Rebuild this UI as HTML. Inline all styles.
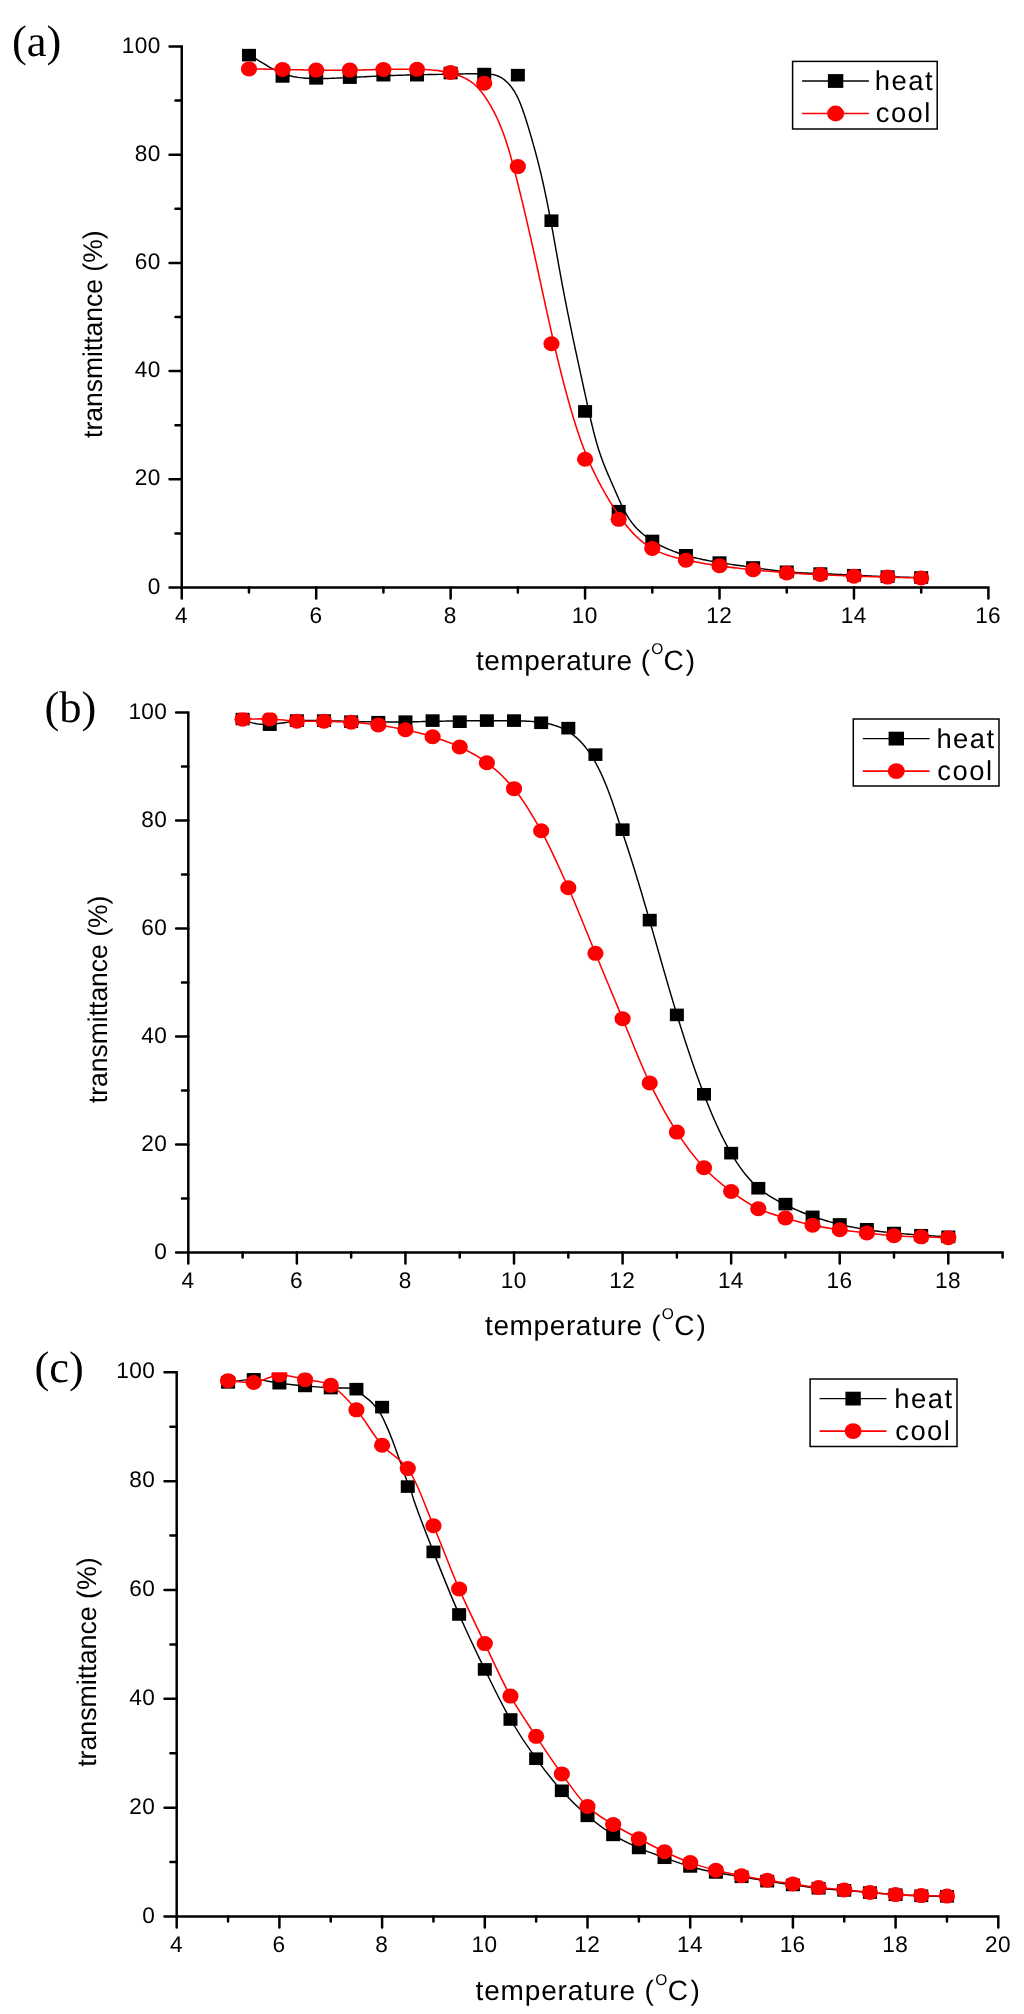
<!DOCTYPE html>
<html><head><meta charset="utf-8"><style>
html,body{margin:0;padding:0;background:#fff;}
svg{display:block;will-change:transform;}
.tk{font-family:"Liberation Sans",sans-serif;font-size:22.6px;letter-spacing:0.4px;fill:#000;}
.tt{font-family:"Liberation Sans",sans-serif;font-size:28px;fill:#000;}
.sup{font-size:15.5px;}
.lg{font-family:"Liberation Sans",sans-serif;font-size:27.4px;letter-spacing:1.5px;fill:#000;}
.pl{font-family:"Liberation Serif",serif;font-size:44.5px;fill:#000;}
</style></head><body>
<svg width="1024" height="2014" viewBox="0 0 1024 2014" text-rendering="geometricPrecision">
<path d="M169.55,46.50 H181.75 V587.50 H988.40 V598.40" fill="none" stroke="#000" stroke-width="2.5" stroke-linejoin="miter" stroke-linecap="round"/>
<path d="M169.55,587.50 H181.75 M169.55,479.30 H181.75 M169.55,371.10 H181.75 M169.55,262.90 H181.75 M169.55,154.70 H181.75 M175.45,533.40 H181.75 M175.45,425.20 H181.75 M175.45,317.00 H181.75 M175.45,208.80 H181.75 M175.45,100.60 H181.75 M181.75,587.50 V598.40 M316.19,587.50 V598.40 M450.63,587.50 V598.40 M585.08,587.50 V598.40 M719.52,587.50 V598.40 M853.96,587.50 V598.40 M248.97,587.50 V592.50 M383.41,587.50 V592.50 M517.85,587.50 V592.50 M652.30,587.50 V592.50 M786.74,587.50 V592.50 M921.18,587.50 V592.50 " fill="none" stroke="#000" stroke-width="2.5" stroke-linecap="round"/>
<text class="tk" x="160.75" y="593.60" text-anchor="end">0</text>
<text class="tk" x="160.75" y="485.40" text-anchor="end">20</text>
<text class="tk" x="160.75" y="377.20" text-anchor="end">40</text>
<text class="tk" x="160.75" y="269.00" text-anchor="end">60</text>
<text class="tk" x="160.75" y="160.80" text-anchor="end">80</text>
<text class="tk" x="160.75" y="52.60" text-anchor="end">100</text>
<text class="tk" x="181.45" y="622.90" text-anchor="middle">4</text>
<text class="tk" x="315.89" y="622.90" text-anchor="middle">6</text>
<text class="tk" x="450.33" y="622.90" text-anchor="middle">8</text>
<text class="tk" x="584.78" y="622.90" text-anchor="middle">10</text>
<text class="tk" x="719.22" y="622.90" text-anchor="middle">12</text>
<text class="tk" x="853.66" y="622.90" text-anchor="middle">14</text>
<text class="tk" x="988.10" y="622.90" text-anchor="middle">16</text>
<clipPath id="c1"><rect x="181.75" y="46.50" width="806.65" height="541.00"/></clipPath>
<g clip-path="url(#c1)">
<path d="M248.98,55.16 L250.76,56.06 L252.52,57.01 L254.27,57.98 L256.00,58.99 L257.73,60.01 L259.45,61.04 L261.17,62.09 L262.89,63.14 L264.61,64.19 L266.33,65.23 L268.06,66.26 L269.79,67.27 L271.54,68.26 L273.30,69.22 L275.07,70.15 L276.86,71.04 L278.67,71.89 L280.50,72.69 L282.36,73.43 L284.24,74.11 L286.15,74.73 L288.07,75.30 L290.02,75.81 L291.98,76.27 L293.95,76.68 L295.93,77.04 L297.91,77.36 L299.90,77.62 L301.90,77.85 L303.89,78.04 L305.89,78.20 L307.88,78.33 L309.89,78.43 L311.89,78.51 L313.89,78.56 L315.90,78.58 L317.90,78.59 L319.91,78.59 L321.91,78.56 L323.92,78.52 L325.93,78.48 L327.94,78.42 L329.94,78.35 L331.95,78.28 L333.96,78.21 L335.96,78.13 L337.97,78.05 L339.97,77.96 L341.98,77.87 L343.98,77.78 L345.99,77.69 L347.99,77.59 L350.00,77.49 L352.00,77.39 L354.00,77.28 L356.01,77.18 L358.01,77.08 L360.01,76.97 L362.01,76.87 L364.02,76.76 L366.02,76.66 L368.02,76.55 L370.03,76.45 L372.03,76.35 L374.03,76.25 L376.03,76.15 L378.04,76.06 L380.04,75.97 L382.04,75.88 L384.05,75.79 L386.05,75.71 L388.06,75.63 L390.06,75.56 L392.07,75.48 L394.07,75.42 L396.08,75.35 L398.08,75.29 L400.09,75.22 L402.09,75.17 L404.10,75.11 L406.10,75.06 L408.11,75.00 L410.11,74.95 L412.12,74.91 L414.12,74.86 L416.13,74.82 L418.14,74.77 L420.14,74.73 L422.15,74.69 L424.16,74.65 L426.16,74.61 L428.17,74.58 L430.17,74.54 L432.18,74.50 L434.19,74.47 L436.19,74.43 L438.20,74.39 L440.20,74.36 L442.21,74.32 L444.22,74.29 L446.22,74.25 L448.23,74.21 L450.23,74.18 L452.24,74.14 L454.24,74.10 L456.25,74.06 L458.25,74.02 L460.26,73.98 L462.26,73.93 L464.27,73.89 L466.27,73.84 L468.28,73.80 L470.28,73.76 L472.29,73.73 L474.30,73.70 L476.31,73.69 L478.32,73.68 L480.33,73.69 L482.34,73.70 L484.36,73.74 L486.37,73.82 L488.36,73.94 L490.33,74.14 L492.27,74.43 L494.18,74.82 L496.03,75.34 L497.84,75.99 L499.58,76.79 L501.27,77.71 L502.91,78.76 L504.48,79.92 L505.99,81.19 L507.45,82.55 L508.84,84.00 L510.17,85.53 L511.44,87.13 L512.65,88.78 L513.79,90.49 L514.87,92.24 L515.89,94.03 L516.85,95.85 L517.76,97.69 L518.62,99.56 L519.44,101.45 L520.23,103.35 L520.97,105.26 L521.70,107.18 L522.39,109.10 L523.07,111.01 L523.74,112.92 L524.38,114.83 L525.02,116.73 L525.64,118.63 L526.25,120.53 L526.85,122.43 L527.44,124.33 L528.02,126.23 L528.60,128.13 L529.17,130.03 L529.73,131.93 L530.29,133.84 L530.85,135.74 L531.41,137.66 L531.96,139.57 L532.50,141.49 L533.05,143.41 L533.59,145.34 L534.12,147.26 L534.65,149.19 L535.18,151.12 L535.70,153.06 L536.22,154.99 L536.73,156.93 L537.24,158.87 L537.74,160.82 L538.24,162.76 L538.73,164.71 L539.22,166.65 L539.70,168.60 L540.17,170.55 L540.64,172.50 L541.10,174.45 L541.56,176.41 L542.01,178.36 L542.46,180.32 L542.90,182.28 L543.33,184.24 L543.77,186.20 L544.19,188.16 L544.62,190.12 L545.04,192.08 L545.45,194.05 L545.86,196.01 L546.27,197.98 L546.67,199.94 L547.07,201.91 L547.46,203.88 L547.85,205.85 L548.24,207.81 L548.63,209.78 L549.01,211.76 L549.39,213.73 L549.77,215.70 L550.14,217.67 L550.51,219.64 L550.88,221.62 L551.25,223.59 L551.62,225.56 L551.98,227.54 L552.34,229.51 L552.70,231.49 L553.06,233.46 L553.42,235.44 L553.77,237.42 L554.13,239.39 L554.48,241.37 L554.84,243.34 L555.19,245.32 L555.54,247.29 L555.89,249.27 L556.24,251.25 L556.60,253.22 L556.95,255.20 L557.30,257.17 L557.65,259.15 L558.00,261.12 L558.36,263.10 L558.71,265.07 L559.06,267.05 L559.42,269.02 L559.77,270.99 L560.13,272.97 L560.49,274.94 L560.85,276.91 L561.21,278.88 L561.58,280.85 L561.94,282.82 L562.31,284.79 L562.68,286.76 L563.05,288.73 L563.43,290.69 L563.80,292.66 L564.18,294.63 L564.56,296.59 L564.94,298.56 L565.32,300.52 L565.71,302.48 L566.10,304.45 L566.48,306.41 L566.87,308.37 L567.27,310.34 L567.66,312.30 L568.06,314.26 L568.45,316.22 L568.85,318.18 L569.25,320.14 L569.65,322.10 L570.05,324.06 L570.46,326.02 L570.86,327.98 L571.27,329.94 L571.68,331.90 L572.09,333.86 L572.50,335.82 L572.91,337.78 L573.32,339.74 L573.74,341.70 L574.15,343.66 L574.57,345.62 L574.98,347.58 L575.40,349.54 L575.82,351.50 L576.24,353.46 L576.66,355.42 L577.08,357.38 L577.51,359.34 L577.93,361.30 L578.35,363.26 L578.78,365.22 L579.20,367.18 L579.63,369.15 L580.06,371.11 L580.49,373.07 L580.91,375.03 L581.34,377.00 L581.77,378.96 L582.20,380.92 L582.63,382.89 L583.06,384.85 L583.49,386.82 L583.92,388.79 L584.36,390.75 L584.79,392.72 L585.22,394.69 L585.65,396.66 L586.08,398.63 L586.52,400.60 L586.95,402.57 L587.38,404.54 L587.82,406.51 L588.25,408.49 L588.68,410.46 L589.12,412.43 L589.56,414.41 L590.00,416.38 L590.45,418.35 L590.90,420.31 L591.35,422.28 L591.81,424.24 L592.28,426.20 L592.75,428.16 L593.23,430.11 L593.72,432.06 L594.22,434.01 L594.73,435.95 L595.24,437.88 L595.77,439.81 L596.31,441.73 L596.86,443.65 L597.42,445.56 L598.00,447.46 L598.59,449.36 L599.19,451.24 L599.81,453.12 L600.45,454.99 L601.10,456.86 L601.77,458.71 L602.45,460.55 L603.15,462.39 L603.86,464.22 L604.58,466.05 L605.32,467.88 L606.07,469.70 L606.83,471.52 L607.60,473.35 L608.37,475.17 L609.16,477.00 L609.96,478.83 L610.76,480.67 L611.56,482.51 L612.37,484.36 L613.19,486.22 L614.01,488.08 L614.83,489.96 L615.66,491.85 L616.48,493.75 L617.32,495.66 L618.15,497.57 L619.00,499.49 L619.86,501.40 L620.74,503.30 L621.63,505.20 L622.55,507.08 L623.49,508.95 L624.45,510.79 L625.43,512.61 L626.45,514.41 L627.50,516.17 L628.59,517.91 L629.71,519.60 L630.88,521.26 L632.08,522.87 L633.33,524.44 L634.62,525.96 L635.94,527.44 L637.30,528.89 L638.70,530.29 L640.14,531.65 L641.61,532.97 L643.11,534.26 L644.64,535.50 L646.21,536.71 L647.80,537.88 L649.43,539.02 L651.08,540.12 L652.75,541.19 L654.45,542.23 L656.17,543.23 L657.92,544.20 L659.69,545.14 L661.47,546.04 L663.28,546.92 L665.10,547.77 L666.94,548.59 L668.80,549.38 L670.66,550.15 L672.55,550.89 L674.44,551.60 L676.34,552.29 L678.25,552.95 L680.17,553.59 L682.10,554.20 L684.03,554.80 L685.97,555.37 L687.91,555.92 L689.86,556.45 L691.80,556.97 L693.76,557.46 L695.71,557.94 L697.66,558.39 L699.62,558.84 L701.58,559.27 L703.55,559.68 L705.51,560.08 L707.48,560.47 L709.45,560.84 L711.42,561.21 L713.39,561.56 L715.37,561.90 L717.34,562.24 L719.32,562.56 L721.30,562.88 L723.28,563.20 L725.26,563.51 L727.24,563.81 L729.23,564.10 L731.21,564.40 L733.19,564.68 L735.18,564.97 L737.17,565.25 L739.15,565.53 L741.14,565.81 L743.13,566.09 L745.11,566.37 L747.10,566.64 L749.09,566.92 L751.08,567.20 L753.06,567.48 L755.05,567.77 L757.04,568.05 L759.03,568.33 L761.01,568.62 L763.00,568.90 L764.99,569.18 L766.98,569.46 L768.97,569.73 L770.95,569.99 L772.94,570.25 L774.93,570.51 L776.93,570.75 L778.92,570.99 L780.91,571.21 L782.90,571.42 L784.90,571.62 L786.89,571.81 L788.89,571.99 L790.89,572.15 L792.89,572.29 L794.89,572.43 L796.89,572.56 L798.89,572.68 L800.90,572.79 L802.90,572.89 L804.90,572.99 L806.91,573.08 L808.91,573.16 L810.92,573.25 L812.92,573.33 L814.93,573.41 L816.94,573.49 L818.94,573.57 L820.95,573.65 L822.95,573.73 L824.96,573.82 L826.96,573.90 L828.97,573.99 L830.97,574.08 L832.98,574.17 L834.98,574.27 L836.99,574.36 L838.99,574.46 L840.99,574.55 L843.00,574.65 L845.00,574.75 L847.01,574.85 L849.01,574.94 L851.01,575.04 L853.02,575.14 L855.02,575.24 L857.02,575.34 L859.03,575.44 L861.03,575.53 L863.03,575.63 L865.04,575.72 L867.04,575.82 L869.05,575.91 L871.05,576.00 L873.05,576.10 L875.06,576.18 L877.06,576.27 L879.06,576.36 L881.07,576.44 L883.07,576.52 L885.08,576.60 L887.08,576.68 L889.09,576.76 L891.09,576.83 L893.10,576.90 L895.10,576.96 L897.11,577.03 L899.11,577.08 L901.12,577.14 L903.12,577.19 L905.13,577.24 L907.13,577.29 L909.14,577.33 L911.14,577.37 L913.15,577.40 L915.16,577.43 L917.17,577.45 L919.17,577.47 L921.18,577.49" fill="none" stroke="#000" stroke-width="1.45" stroke-linejoin="round"/>
<rect x="241.97" y="48.86" width="14.0" height="12.6"/>
<rect x="275.58" y="70.12" width="14.0" height="12.6"/>
<rect x="309.19" y="72.01" width="14.0" height="12.6"/>
<rect x="342.80" y="71.31" width="14.0" height="12.6"/>
<rect x="376.41" y="68.87" width="14.0" height="12.6"/>
<rect x="410.02" y="68.87" width="14.0" height="12.6"/>
<rect x="443.63" y="66.71" width="14.0" height="12.6"/>
<rect x="477.24" y="67.79" width="14.0" height="12.6"/>
<rect x="510.85" y="68.87" width="14.0" height="12.6"/>
<rect x="544.46" y="214.40" width="14.0" height="12.6"/>
<rect x="578.08" y="405.10" width="14.0" height="12.6"/>
<rect x="611.69" y="504.92" width="14.0" height="12.6"/>
<rect x="645.30" y="534.67" width="14.0" height="12.6"/>
<rect x="678.91" y="549.01" width="14.0" height="12.6"/>
<rect x="712.52" y="556.31" width="14.0" height="12.6"/>
<rect x="746.13" y="561.18" width="14.0" height="12.6"/>
<rect x="779.74" y="565.51" width="14.0" height="12.6"/>
<rect x="813.35" y="567.30" width="14.0" height="12.6"/>
<rect x="846.96" y="568.92" width="14.0" height="12.6"/>
<rect x="880.57" y="570.38" width="14.0" height="12.6"/>
<rect x="914.18" y="571.19" width="14.0" height="12.6"/>
<path d="M248.97,68.90 L250.98,68.92 L252.99,68.95 L254.99,68.98 L257.00,69.01 L259.01,69.04 L261.01,69.07 L263.02,69.10 L265.03,69.14 L267.04,69.17 L269.04,69.21 L271.05,69.25 L273.06,69.29 L275.07,69.33 L277.07,69.37 L279.08,69.41 L281.09,69.45 L283.09,69.49 L285.10,69.53 L287.11,69.57 L289.12,69.62 L291.12,69.66 L293.13,69.70 L295.14,69.74 L297.15,69.78 L299.15,69.81 L301.16,69.85 L303.17,69.89 L305.18,69.92 L307.18,69.96 L309.19,69.99 L311.20,70.02 L313.21,70.05 L315.21,70.08 L317.22,70.10 L319.23,70.12 L321.24,70.15 L323.24,70.16 L325.25,70.18 L327.26,70.19 L329.27,70.21 L331.28,70.21 L333.28,70.22 L335.29,70.22 L337.30,70.22 L339.31,70.21 L341.31,70.21 L343.32,70.20 L345.33,70.18 L347.34,70.16 L349.34,70.14 L351.35,70.11 L353.36,70.08 L355.36,70.05 L357.37,70.01 L359.38,69.97 L361.39,69.93 L363.39,69.88 L365.40,69.83 L367.41,69.79 L369.42,69.74 L371.42,69.69 L373.43,69.64 L375.44,69.59 L377.45,69.55 L379.45,69.50 L381.46,69.45 L383.47,69.41 L385.48,69.37 L387.48,69.33 L389.49,69.29 L391.50,69.26 L393.51,69.23 L395.51,69.21 L397.52,69.19 L399.53,69.17 L401.54,69.16 L403.54,69.15 L405.55,69.15 L407.56,69.16 L409.57,69.17 L411.57,69.19 L413.58,69.22 L415.59,69.26 L417.60,69.30 L419.60,69.35 L421.61,69.42 L423.62,69.50 L425.62,69.59 L427.63,69.70 L429.63,69.83 L431.63,69.98 L433.63,70.16 L435.63,70.36 L437.63,70.60 L439.62,70.86 L441.61,71.16 L443.59,71.49 L445.57,71.86 L447.55,72.26 L449.53,72.71 L451.49,73.21 L453.46,73.75 L455.41,74.34 L457.34,74.98 L459.26,75.67 L461.14,76.42 L463.00,77.23 L464.82,78.10 L466.61,79.03 L468.34,80.03 L470.03,81.10 L471.67,82.24 L473.24,83.45 L474.76,84.73 L476.21,86.09 L477.61,87.50 L478.96,88.97 L480.26,90.49 L481.51,92.05 L482.73,93.65 L483.91,95.27 L485.06,96.92 L486.18,98.58 L487.27,100.25 L488.34,101.94 L489.38,103.64 L490.39,105.36 L491.38,107.09 L492.35,108.83 L493.29,110.58 L494.21,112.34 L495.11,114.12 L495.99,115.91 L496.84,117.71 L497.68,119.52 L498.49,121.34 L499.28,123.16 L500.06,125.00 L500.82,126.85 L501.56,128.71 L502.28,130.57 L502.99,132.44 L503.68,134.32 L504.36,136.21 L505.02,138.10 L505.67,140.00 L506.30,141.91 L506.92,143.82 L507.53,145.74 L508.13,147.66 L508.72,149.59 L509.29,151.52 L509.86,153.46 L510.42,155.40 L510.97,157.34 L511.51,159.29 L512.05,161.24 L512.57,163.19 L513.09,165.14 L513.61,167.09 L514.12,169.05 L514.63,171.01 L515.13,172.96 L515.63,174.92 L516.13,176.88 L516.63,178.83 L517.12,180.79 L517.61,182.75 L518.10,184.70 L518.58,186.66 L519.07,188.61 L519.55,190.57 L520.03,192.52 L520.51,194.48 L520.99,196.43 L521.46,198.39 L521.93,200.34 L522.40,202.30 L522.87,204.25 L523.34,206.20 L523.80,208.16 L524.27,210.11 L524.73,212.06 L525.19,214.02 L525.65,215.97 L526.10,217.92 L526.56,219.88 L527.01,221.83 L527.46,223.78 L527.91,225.74 L528.36,227.69 L528.81,229.65 L529.26,231.60 L529.70,233.55 L530.14,235.51 L530.59,237.46 L531.03,239.41 L531.47,241.37 L531.91,243.32 L532.34,245.28 L532.78,247.23 L533.22,249.19 L533.65,251.14 L534.08,253.10 L534.52,255.05 L534.95,257.01 L535.38,258.96 L535.81,260.92 L536.24,262.87 L536.66,264.83 L537.09,266.79 L537.52,268.74 L537.94,270.70 L538.37,272.66 L538.80,274.62 L539.22,276.58 L539.65,278.53 L540.07,280.49 L540.49,282.45 L540.92,284.41 L541.34,286.37 L541.77,288.33 L542.19,290.29 L542.61,292.25 L543.04,294.21 L543.46,296.16 L543.89,298.12 L544.31,300.08 L544.74,302.04 L545.17,304.00 L545.59,305.96 L546.02,307.92 L546.45,309.88 L546.88,311.84 L547.31,313.80 L547.74,315.76 L548.17,317.72 L548.61,319.68 L549.04,321.64 L549.48,323.60 L549.91,325.56 L550.35,327.51 L550.79,329.47 L551.23,331.43 L551.68,333.39 L552.12,335.35 L552.57,337.30 L553.02,339.26 L553.47,341.22 L553.92,343.18 L554.37,345.13 L554.83,347.09 L555.29,349.05 L555.75,351.00 L556.21,352.96 L556.67,354.91 L557.14,356.87 L557.61,358.82 L558.08,360.78 L558.56,362.73 L559.04,364.68 L559.52,366.64 L560.00,368.59 L560.49,370.54 L560.97,372.49 L561.47,374.44 L561.96,376.39 L562.46,378.34 L562.96,380.29 L563.47,382.24 L563.97,384.19 L564.49,386.14 L565.00,388.09 L565.52,390.03 L566.04,391.98 L566.57,393.93 L567.10,395.87 L567.63,397.81 L568.17,399.76 L568.71,401.70 L569.25,403.64 L569.80,405.58 L570.36,407.52 L570.92,409.46 L571.48,411.40 L572.05,413.33 L572.63,415.27 L573.21,417.20 L573.79,419.13 L574.39,421.05 L574.99,422.98 L575.59,424.90 L576.21,426.82 L576.83,428.73 L577.45,430.64 L578.09,432.55 L578.73,434.45 L579.38,436.35 L580.04,438.25 L580.71,440.14 L581.39,442.02 L582.07,443.90 L582.77,445.78 L583.47,447.65 L584.19,449.52 L584.91,451.38 L585.64,453.23 L586.39,455.08 L587.14,456.92 L587.91,458.76 L588.69,460.59 L589.47,462.41 L590.27,464.23 L591.08,466.04 L591.91,467.84 L592.74,469.64 L593.59,471.42 L594.45,473.21 L595.32,474.98 L596.20,476.75 L597.10,478.52 L598.01,480.28 L598.93,482.04 L599.86,483.80 L600.80,485.55 L601.76,487.30 L602.72,489.05 L603.70,490.80 L604.69,492.55 L605.70,494.30 L606.71,496.04 L607.74,497.79 L608.78,499.54 L609.83,501.29 L610.89,503.04 L611.97,504.79 L613.06,506.54 L614.16,508.28 L615.28,510.02 L616.41,511.75 L617.56,513.48 L618.73,515.19 L619.91,516.89 L621.10,518.58 L622.32,520.25 L623.56,521.90 L624.81,523.54 L626.08,525.16 L627.37,526.75 L628.69,528.32 L630.02,529.87 L631.38,531.39 L632.76,532.88 L634.16,534.34 L635.58,535.77 L637.03,537.17 L638.50,538.53 L640.00,539.86 L641.52,541.15 L643.07,542.39 L644.65,543.60 L646.25,544.76 L647.88,545.88 L649.54,546.96 L651.23,547.98 L652.94,548.96 L654.69,549.89 L656.46,550.77 L658.26,551.60 L660.09,552.39 L661.93,553.14 L663.80,553.86 L665.68,554.53 L667.59,555.18 L669.50,555.79 L671.44,556.37 L673.38,556.92 L675.34,557.45 L677.30,557.96 L679.27,558.45 L681.25,558.92 L683.23,559.37 L685.21,559.81 L687.20,560.24 L689.18,560.65 L691.16,561.06 L693.15,561.46 L695.13,561.84 L697.11,562.22 L699.10,562.59 L701.08,562.95 L703.06,563.30 L705.05,563.64 L707.03,563.97 L709.01,564.29 L711.00,564.61 L712.98,564.92 L714.97,565.22 L716.95,565.51 L718.94,565.80 L720.92,566.08 L722.91,566.35 L724.90,566.62 L726.88,566.88 L728.87,567.13 L730.86,567.38 L732.85,567.62 L734.84,567.86 L736.83,568.09 L738.82,568.32 L740.81,568.54 L742.80,568.76 L744.79,568.97 L746.78,569.18 L748.78,569.38 L750.77,569.59 L752.76,569.78 L754.76,569.98 L756.76,570.17 L758.75,570.36 L760.75,570.55 L762.75,570.73 L764.75,570.91 L766.75,571.09 L768.75,571.26 L770.75,571.43 L772.75,571.60 L774.75,571.76 L776.75,571.92 L778.76,572.08 L780.76,572.24 L782.76,572.39 L784.77,572.54 L786.77,572.69 L788.77,572.83 L790.78,572.97 L792.78,573.11 L794.79,573.24 L796.80,573.38 L798.80,573.51 L800.81,573.63 L802.81,573.76 L804.82,573.88 L806.82,573.99 L808.83,574.11 L810.84,574.22 L812.84,574.33 L814.85,574.44 L816.85,574.54 L818.86,574.64 L820.86,574.74 L822.87,574.83 L824.87,574.93 L826.88,575.02 L828.88,575.10 L830.89,575.19 L832.89,575.27 L834.90,575.35 L836.90,575.43 L838.91,575.51 L840.91,575.59 L842.92,575.66 L844.92,575.74 L846.93,575.81 L848.93,575.88 L850.94,575.95 L852.94,576.02 L854.95,576.09 L856.95,576.16 L858.96,576.23 L860.97,576.30 L862.97,576.36 L864.98,576.43 L866.99,576.50 L868.99,576.56 L871.00,576.62 L873.01,576.69 L875.02,576.75 L877.02,576.81 L879.03,576.88 L881.04,576.94 L883.05,577.00 L885.05,577.06 L887.06,577.12 L889.07,577.17 L891.08,577.23 L893.08,577.29 L895.09,577.34 L897.10,577.40 L899.11,577.45 L901.11,577.50 L903.12,577.56 L905.13,577.61 L907.13,577.66 L909.14,577.70 L911.15,577.75 L913.15,577.80 L915.16,577.85 L917.17,577.89 L919.17,577.93 L921.18,577.98" fill="none" stroke="#ff0000" stroke-width="1.55" stroke-linejoin="round"/>
<ellipse cx="248.97" cy="68.90" rx="8.1" ry="7.5" fill="#ff0000"/>
<ellipse cx="282.58" cy="69.49" rx="8.1" ry="7.5" fill="#ff0000"/>
<ellipse cx="316.19" cy="70.09" rx="8.1" ry="7.5" fill="#ff0000"/>
<ellipse cx="349.80" cy="70.09" rx="8.1" ry="7.5" fill="#ff0000"/>
<ellipse cx="383.41" cy="69.49" rx="8.1" ry="7.5" fill="#ff0000"/>
<ellipse cx="417.02" cy="69.22" rx="8.1" ry="7.5" fill="#ff0000"/>
<ellipse cx="450.63" cy="72.47" rx="8.1" ry="7.5" fill="#ff0000"/>
<ellipse cx="484.24" cy="83.29" rx="8.1" ry="7.5" fill="#ff0000"/>
<ellipse cx="517.85" cy="166.60" rx="8.1" ry="7.5" fill="#ff0000"/>
<ellipse cx="551.46" cy="343.73" rx="8.1" ry="7.5" fill="#ff0000"/>
<ellipse cx="585.08" cy="459.28" rx="8.1" ry="7.5" fill="#ff0000"/>
<ellipse cx="618.69" cy="519.33" rx="8.1" ry="7.5" fill="#ff0000"/>
<ellipse cx="652.30" cy="548.55" rx="8.1" ry="7.5" fill="#ff0000"/>
<ellipse cx="685.91" cy="560.13" rx="8.1" ry="7.5" fill="#ff0000"/>
<ellipse cx="719.52" cy="565.70" rx="8.1" ry="7.5" fill="#ff0000"/>
<ellipse cx="753.13" cy="569.81" rx="8.1" ry="7.5" fill="#ff0000"/>
<ellipse cx="786.74" cy="572.89" rx="8.1" ry="7.5" fill="#ff0000"/>
<ellipse cx="820.35" cy="574.52" rx="8.1" ry="7.5" fill="#ff0000"/>
<ellipse cx="853.96" cy="576.14" rx="8.1" ry="7.5" fill="#ff0000"/>
<ellipse cx="887.57" cy="577.11" rx="8.1" ry="7.5" fill="#ff0000"/>
<ellipse cx="921.18" cy="577.98" rx="8.1" ry="7.5" fill="#ff0000"/>
</g>
<rect x="792.60" y="61.40" width="144.60" height="67.60" fill="none" stroke="#000" stroke-width="1.5"/>
<path d="M802.10,81.00 H868.90" stroke="#000" stroke-width="1.45"/>
<rect x="827.90" y="74.10" width="15.4" height="13.799999999999999"/>
<path d="M802.10,113.50 H868.90" stroke="#ff0000" stroke-width="1.55"/>
<ellipse cx="835.60" cy="113.50" rx="8.5" ry="7.95" fill="#ff0000"/>
<text class="lg" x="874.80" y="90.00">heat</text>
<text class="lg" x="875.70" y="122.40">cool</text>
<text class="tt" x="476.00" y="669.50" letter-spacing="0.5">temperature (<tspan class="sup" dx="0.6" dy="-15.3">O</tspan><tspan dx="-0.3" dy="15.3">C</tspan><tspan dx="1.5">)</tspan></text>
<text class="tt" style="font-size:27px" text-anchor="middle" textLength="207.5" lengthAdjust="spacingAndGlyphs" transform="translate(101.50,334.20) rotate(-90)">transmittance (%)</text>
<text class="pl" x="12.00" y="56.00">(a)</text>
<path d="M176.10,712.50 H188.30 V1252.50 H1002.59 V1257.50" fill="none" stroke="#000" stroke-width="2.5" stroke-linejoin="miter" stroke-linecap="round"/>
<path d="M176.10,1252.50 H188.30 M176.10,1144.50 H188.30 M176.10,1036.50 H188.30 M176.10,928.50 H188.30 M176.10,820.50 H188.30 M182.00,1198.50 H188.30 M182.00,1090.50 H188.30 M182.00,982.50 H188.30 M182.00,874.50 H188.30 M182.00,766.50 H188.30 M188.30,1252.50 V1263.40 M296.87,1252.50 V1263.40 M405.44,1252.50 V1263.40 M514.01,1252.50 V1263.40 M622.59,1252.50 V1263.40 M731.16,1252.50 V1263.40 M839.73,1252.50 V1263.40 M948.30,1252.50 V1263.40 M242.59,1252.50 V1257.50 M351.16,1252.50 V1257.50 M459.73,1252.50 V1257.50 M568.30,1252.50 V1257.50 M676.87,1252.50 V1257.50 M785.44,1252.50 V1257.50 M894.01,1252.50 V1257.50 " fill="none" stroke="#000" stroke-width="2.5" stroke-linecap="round"/>
<text class="tk" x="167.30" y="1258.60" text-anchor="end">0</text>
<text class="tk" x="167.30" y="1150.60" text-anchor="end">20</text>
<text class="tk" x="167.30" y="1042.60" text-anchor="end">40</text>
<text class="tk" x="167.30" y="934.60" text-anchor="end">60</text>
<text class="tk" x="167.30" y="826.60" text-anchor="end">80</text>
<text class="tk" x="167.30" y="718.60" text-anchor="end">100</text>
<text class="tk" x="188.00" y="1287.90" text-anchor="middle">4</text>
<text class="tk" x="296.57" y="1287.90" text-anchor="middle">6</text>
<text class="tk" x="405.14" y="1287.90" text-anchor="middle">8</text>
<text class="tk" x="513.71" y="1287.90" text-anchor="middle">10</text>
<text class="tk" x="622.29" y="1287.90" text-anchor="middle">12</text>
<text class="tk" x="730.86" y="1287.90" text-anchor="middle">14</text>
<text class="tk" x="839.43" y="1287.90" text-anchor="middle">16</text>
<text class="tk" x="948.00" y="1287.90" text-anchor="middle">18</text>
<clipPath id="c2"><rect x="188.30" y="712.50" width="814.29" height="540.00"/></clipPath>
<g clip-path="url(#c2)">
<path d="M242.59,719.07 L244.54,720.05 L246.50,720.92 L248.46,721.68 L250.41,722.33 L252.37,722.88 L254.34,723.33 L256.30,723.70 L258.26,723.99 L260.23,724.19 L262.20,724.33 L264.17,724.40 L266.14,724.41 L268.11,724.36 L270.08,724.27 L272.06,724.13 L274.04,723.95 L276.02,723.75 L278.00,723.51 L279.98,723.26 L281.97,722.99 L283.95,722.71 L285.94,722.42 L287.93,722.14 L289.92,721.87 L291.92,721.61 L293.92,721.37 L295.91,721.16 L297.91,720.97 L299.92,720.82 L301.92,720.69 L303.93,720.60 L305.93,720.52 L307.94,720.48 L309.95,720.45 L311.96,720.44 L313.97,720.44 L315.98,720.46 L317.99,720.49 L320.00,720.53 L322.01,720.58 L324.02,720.63 L326.03,720.68 L328.03,720.73 L330.04,720.79 L332.04,720.85 L334.05,720.90 L336.05,720.96 L338.06,721.02 L340.06,721.08 L342.06,721.14 L344.06,721.20 L346.06,721.26 L348.07,721.31 L350.07,721.37 L352.07,721.43 L354.07,721.48 L356.07,721.53 L358.07,721.59 L360.08,721.63 L362.08,721.68 L364.08,721.73 L366.08,721.77 L368.09,721.81 L370.09,721.84 L372.09,721.87 L374.10,721.90 L376.11,721.93 L378.11,721.95 L380.12,721.96 L382.13,721.98 L384.14,721.99 L386.15,721.99 L388.16,721.99 L390.17,721.99 L392.18,721.98 L394.20,721.97 L396.21,721.96 L398.22,721.94 L400.24,721.92 L402.25,721.90 L404.27,721.88 L406.28,721.85 L408.29,721.83 L410.31,721.80 L412.32,721.76 L414.34,721.73 L416.35,721.70 L418.36,721.66 L420.38,721.62 L422.39,721.58 L424.40,721.54 L426.41,721.50 L428.42,721.46 L430.43,721.42 L432.44,721.38 L434.45,721.34 L436.46,721.30 L438.47,721.25 L440.47,721.21 L442.48,721.17 L444.48,721.13 L446.49,721.09 L448.49,721.05 L450.49,721.02 L452.49,720.98 L454.48,720.95 L456.48,720.91 L458.47,720.88 L460.47,720.85 L462.46,720.83 L464.45,720.80 L466.43,720.78 L468.42,720.76 L470.41,720.74 L472.40,720.72 L474.38,720.70 L476.37,720.69 L478.36,720.68 L480.34,720.67 L482.33,720.66 L484.32,720.66 L486.31,720.66 L488.31,720.66 L490.30,720.66 L492.30,720.66 L494.30,720.67 L496.30,720.68 L498.31,720.69 L500.31,720.70 L502.33,720.71 L504.34,720.73 L506.36,720.75 L508.38,720.77 L510.41,720.80 L512.44,720.82 L514.48,720.85 L516.52,720.88 L518.57,720.92 L520.62,720.96 L522.66,721.02 L524.71,721.09 L526.76,721.17 L528.80,721.27 L530.84,721.39 L532.88,721.54 L534.91,721.71 L536.93,721.91 L538.94,722.14 L540.94,722.40 L542.93,722.70 L544.90,723.04 L546.87,723.41 L548.81,723.83 L550.74,724.30 L552.65,724.81 L554.55,725.37 L556.42,725.99 L558.27,726.66 L560.10,727.39 L561.90,728.18 L563.68,729.04 L565.43,729.95 L567.15,730.92 L568.83,731.94 L570.48,733.03 L572.10,734.16 L573.67,735.35 L575.20,736.60 L576.70,737.89 L578.16,739.23 L579.58,740.61 L580.96,742.03 L582.31,743.50 L583.62,745.01 L584.90,746.55 L586.15,748.13 L587.37,749.74 L588.55,751.38 L589.71,753.04 L590.83,754.74 L591.93,756.45 L593.00,758.19 L594.04,759.95 L595.05,761.73 L596.04,763.52 L597.01,765.33 L597.95,767.15 L598.87,768.97 L599.77,770.81 L600.65,772.64 L601.50,774.49 L602.34,776.33 L603.16,778.18 L603.96,780.03 L604.74,781.88 L605.51,783.74 L606.26,785.60 L607.00,787.46 L607.73,789.32 L608.44,791.19 L609.14,793.06 L609.83,794.93 L610.51,796.80 L611.18,798.68 L611.84,800.55 L612.50,802.43 L613.14,804.31 L613.79,806.20 L614.42,808.08 L615.05,809.97 L615.68,811.86 L616.31,813.75 L616.93,815.64 L617.55,817.53 L618.18,819.43 L618.80,821.33 L619.43,823.22 L620.05,825.12 L620.68,827.02 L621.31,828.93 L621.94,830.83 L622.57,832.73 L623.20,834.64 L623.83,836.54 L624.46,838.45 L625.09,840.36 L625.72,842.27 L626.35,844.18 L626.98,846.09 L627.60,848.00 L628.23,849.92 L628.85,851.83 L629.47,853.74 L630.08,855.66 L630.69,857.57 L631.30,859.49 L631.91,861.41 L632.51,863.32 L633.12,865.24 L633.72,867.16 L634.31,869.08 L634.91,871.00 L635.50,872.92 L636.09,874.84 L636.68,876.77 L637.27,878.69 L637.85,880.61 L638.43,882.53 L639.01,884.46 L639.59,886.38 L640.17,888.31 L640.75,890.23 L641.32,892.16 L641.89,894.08 L642.46,896.01 L643.03,897.94 L643.60,899.86 L644.16,901.79 L644.73,903.72 L645.29,905.65 L645.85,907.57 L646.42,909.50 L646.98,911.43 L647.53,913.36 L648.09,915.29 L648.65,917.22 L649.21,919.15 L649.76,921.08 L650.32,923.01 L650.87,924.94 L651.42,926.87 L651.98,928.80 L652.53,930.73 L653.08,932.66 L653.63,934.59 L654.18,936.52 L654.73,938.45 L655.28,940.38 L655.83,942.31 L656.38,944.24 L656.93,946.17 L657.48,948.10 L658.03,950.03 L658.58,951.96 L659.14,953.89 L659.69,955.82 L660.24,957.75 L660.79,959.68 L661.34,961.61 L661.89,963.54 L662.44,965.47 L663.00,967.40 L663.55,969.33 L664.11,971.25 L664.66,973.18 L665.22,975.11 L665.77,977.04 L666.33,978.96 L666.89,980.89 L667.45,982.82 L668.01,984.74 L668.57,986.67 L669.13,988.59 L669.70,990.52 L670.26,992.44 L670.83,994.37 L671.40,996.29 L671.97,998.21 L672.54,1000.13 L673.11,1002.06 L673.69,1003.98 L674.26,1005.90 L674.84,1007.82 L675.42,1009.74 L676.00,1011.66 L676.59,1013.58 L677.17,1015.49 L677.76,1017.41 L678.35,1019.33 L678.94,1021.24 L679.54,1023.16 L680.13,1025.07 L680.73,1026.99 L681.33,1028.90 L681.94,1030.81 L682.54,1032.72 L683.15,1034.63 L683.76,1036.54 L684.38,1038.45 L684.99,1040.36 L685.61,1042.27 L686.23,1044.18 L686.86,1046.08 L687.49,1047.99 L688.12,1049.89 L688.75,1051.79 L689.39,1053.69 L690.03,1055.59 L690.67,1057.49 L691.32,1059.39 L691.97,1061.29 L692.62,1063.19 L693.28,1065.08 L693.94,1066.98 L694.61,1068.87 L695.27,1070.76 L695.95,1072.66 L696.62,1074.55 L697.30,1076.44 L697.98,1078.32 L698.67,1080.21 L699.36,1082.10 L700.06,1083.98 L700.75,1085.86 L701.46,1087.75 L702.17,1089.63 L702.88,1091.51 L703.59,1093.38 L704.31,1095.26 L705.04,1097.14 L705.77,1099.01 L706.50,1100.88 L707.24,1102.75 L707.99,1104.62 L708.74,1106.49 L709.50,1108.35 L710.27,1110.21 L711.04,1112.07 L711.82,1113.92 L712.60,1115.78 L713.40,1117.62 L714.20,1119.47 L715.01,1121.31 L715.83,1123.15 L716.66,1124.98 L717.50,1126.81 L718.35,1128.64 L719.21,1130.46 L720.07,1132.28 L720.95,1134.09 L721.84,1135.90 L722.74,1137.70 L723.65,1139.50 L724.58,1141.29 L725.51,1143.07 L726.46,1144.85 L727.42,1146.63 L728.39,1148.40 L729.38,1150.16 L730.38,1151.91 L731.39,1153.66 L732.42,1155.40 L733.46,1157.14 L734.52,1158.86 L735.60,1160.57 L736.69,1162.27 L737.80,1163.96 L738.93,1165.63 L740.08,1167.29 L741.25,1168.93 L742.44,1170.55 L743.65,1172.16 L744.89,1173.74 L746.15,1175.29 L747.43,1176.83 L748.74,1178.34 L750.08,1179.83 L751.44,1181.28 L752.84,1182.71 L754.26,1184.11 L755.70,1185.48 L757.18,1186.81 L758.69,1188.12 L760.24,1189.38 L761.81,1190.62 L763.41,1191.82 L765.03,1192.99 L766.68,1194.13 L768.36,1195.25 L770.05,1196.33 L771.77,1197.39 L773.50,1198.43 L775.25,1199.44 L777.01,1200.43 L778.79,1201.40 L780.58,1202.35 L782.38,1203.28 L784.18,1204.20 L786.00,1205.09 L787.82,1205.98 L789.64,1206.84 L791.47,1207.70 L793.30,1208.53 L795.14,1209.35 L796.99,1210.16 L798.84,1210.95 L800.70,1211.73 L802.56,1212.49 L804.42,1213.23 L806.29,1213.96 L808.17,1214.68 L810.05,1215.38 L811.93,1216.07 L813.82,1216.74 L815.72,1217.40 L817.61,1218.04 L819.52,1218.67 L821.42,1219.28 L823.33,1219.88 L825.25,1220.46 L827.17,1221.03 L829.09,1221.59 L831.02,1222.13 L832.95,1222.65 L834.88,1223.16 L836.82,1223.66 L838.77,1224.15 L840.71,1224.62 L842.66,1225.07 L844.61,1225.51 L846.57,1225.94 L848.53,1226.36 L850.49,1226.76 L852.46,1227.15 L854.42,1227.53 L856.40,1227.89 L858.37,1228.25 L860.35,1228.59 L862.32,1228.92 L864.31,1229.24 L866.29,1229.56 L868.27,1229.86 L870.26,1230.15 L872.25,1230.43 L874.24,1230.70 L876.24,1230.96 L878.23,1231.22 L880.23,1231.46 L882.22,1231.70 L884.22,1231.93 L886.22,1232.15 L888.23,1232.37 L890.23,1232.57 L892.23,1232.78 L894.23,1232.97 L896.24,1233.16 L898.25,1233.34 L900.25,1233.52 L902.26,1233.69 L904.26,1233.86 L906.27,1234.02 L908.28,1234.18 L910.28,1234.34 L912.29,1234.49 L914.30,1234.63 L916.30,1234.78 L918.31,1234.92 L920.31,1235.06 L922.32,1235.19 L924.32,1235.33 L926.33,1235.46 L928.33,1235.59 L930.33,1235.72 L932.33,1235.85 L934.33,1235.98 L936.32,1236.11 L938.32,1236.24 L940.31,1236.37 L942.31,1236.50 L944.30,1236.63 L946.29,1236.76 L948.27,1236.89" fill="none" stroke="#000" stroke-width="1.45" stroke-linejoin="round"/>
<rect x="235.59" y="712.68" width="14.0" height="12.6"/>
<rect x="262.73" y="718.35" width="14.0" height="12.6"/>
<rect x="289.87" y="714.30" width="14.0" height="12.6"/>
<rect x="317.01" y="714.30" width="14.0" height="12.6"/>
<rect x="344.16" y="715.38" width="14.0" height="12.6"/>
<rect x="371.30" y="715.92" width="14.0" height="12.6"/>
<rect x="398.44" y="715.38" width="14.0" height="12.6"/>
<rect x="425.59" y="714.30" width="14.0" height="12.6"/>
<rect x="452.73" y="715.38" width="14.0" height="12.6"/>
<rect x="479.87" y="714.30" width="14.0" height="12.6"/>
<rect x="507.01" y="714.30" width="14.0" height="12.6"/>
<rect x="534.16" y="716.46" width="14.0" height="12.6"/>
<rect x="561.30" y="721.86" width="14.0" height="12.6"/>
<rect x="588.44" y="748.32" width="14.0" height="12.6"/>
<rect x="615.59" y="823.38" width="14.0" height="12.6"/>
<rect x="642.73" y="913.83" width="14.0" height="12.6"/>
<rect x="669.87" y="1008.60" width="14.0" height="12.6"/>
<rect x="697.01" y="1087.98" width="14.0" height="12.6"/>
<rect x="724.16" y="1146.84" width="14.0" height="12.6"/>
<rect x="751.30" y="1181.94" width="14.0" height="12.6"/>
<rect x="778.44" y="1197.82" width="14.0" height="12.6"/>
<rect x="805.59" y="1210.56" width="14.0" height="12.6"/>
<rect x="832.73" y="1218.12" width="14.0" height="12.6"/>
<rect x="859.87" y="1222.98" width="14.0" height="12.6"/>
<rect x="887.01" y="1226.76" width="14.0" height="12.6"/>
<rect x="914.16" y="1228.92" width="14.0" height="12.6"/>
<rect x="941.30" y="1230.54" width="14.0" height="12.6"/>
<path d="M242.59,719.20 C251.63,719.12 260.69,718.66 269.73,718.98 C278.78,719.30 287.82,720.78 296.87,721.14 C305.91,721.50 314.97,720.96 324.01,721.14 C333.06,721.32 342.12,721.59 351.16,722.22 C360.21,722.85 369.28,723.67 378.30,724.92 C387.37,726.18 396.43,727.81 405.44,729.78 C414.53,731.77 423.61,733.95 432.59,736.80 C441.71,739.70 450.85,742.85 459.73,747.06 C468.96,751.43 478.20,756.22 486.87,762.72 C496.37,769.83 505.53,778.37 514.01,788.64 C523.82,800.51 532.57,815.36 541.16,830.76 C550.79,848.04 559.50,867.95 568.30,887.73 C577.63,908.71 586.39,931.50 595.44,953.34 C604.48,975.15 613.51,997.00 622.59,1018.68 C631.60,1040.20 640.13,1063.19 649.73,1082.94 C658.34,1100.66 667.25,1117.33 676.87,1132.08 C685.46,1145.26 694.42,1157.45 704.01,1167.72 C712.62,1176.94 721.84,1184.50 731.16,1191.48 C739.96,1198.08 748.97,1204.30 758.30,1208.76 C767.10,1212.97 776.35,1215.18 785.44,1217.94 C794.45,1220.67 803.49,1223.24 812.59,1225.23 C821.59,1227.20 830.67,1228.51 839.73,1229.82 C848.76,1231.12 857.82,1232.07 866.87,1233.06 C875.91,1234.05 884.96,1235.13 894.01,1235.76 C903.05,1236.39 912.11,1236.52 921.16,1236.84 C930.20,1237.15 939.25,1237.38 948.30,1237.65" fill="none" stroke="#ff0000" stroke-width="1.55" stroke-linejoin="round"/>
<ellipse cx="242.59" cy="719.20" rx="8.1" ry="7.5" fill="#ff0000"/>
<ellipse cx="269.73" cy="718.98" rx="8.1" ry="7.5" fill="#ff0000"/>
<ellipse cx="296.87" cy="721.14" rx="8.1" ry="7.5" fill="#ff0000"/>
<ellipse cx="324.01" cy="721.14" rx="8.1" ry="7.5" fill="#ff0000"/>
<ellipse cx="351.16" cy="722.22" rx="8.1" ry="7.5" fill="#ff0000"/>
<ellipse cx="378.30" cy="724.92" rx="8.1" ry="7.5" fill="#ff0000"/>
<ellipse cx="405.44" cy="729.78" rx="8.1" ry="7.5" fill="#ff0000"/>
<ellipse cx="432.59" cy="736.80" rx="8.1" ry="7.5" fill="#ff0000"/>
<ellipse cx="459.73" cy="747.06" rx="8.1" ry="7.5" fill="#ff0000"/>
<ellipse cx="486.87" cy="762.72" rx="8.1" ry="7.5" fill="#ff0000"/>
<ellipse cx="514.01" cy="788.64" rx="8.1" ry="7.5" fill="#ff0000"/>
<ellipse cx="541.16" cy="830.76" rx="8.1" ry="7.5" fill="#ff0000"/>
<ellipse cx="568.30" cy="887.73" rx="8.1" ry="7.5" fill="#ff0000"/>
<ellipse cx="595.44" cy="953.34" rx="8.1" ry="7.5" fill="#ff0000"/>
<ellipse cx="622.59" cy="1018.68" rx="8.1" ry="7.5" fill="#ff0000"/>
<ellipse cx="649.73" cy="1082.94" rx="8.1" ry="7.5" fill="#ff0000"/>
<ellipse cx="676.87" cy="1132.08" rx="8.1" ry="7.5" fill="#ff0000"/>
<ellipse cx="704.01" cy="1167.72" rx="8.1" ry="7.5" fill="#ff0000"/>
<ellipse cx="731.16" cy="1191.48" rx="8.1" ry="7.5" fill="#ff0000"/>
<ellipse cx="758.30" cy="1208.76" rx="8.1" ry="7.5" fill="#ff0000"/>
<ellipse cx="785.44" cy="1217.94" rx="8.1" ry="7.5" fill="#ff0000"/>
<ellipse cx="812.59" cy="1225.23" rx="8.1" ry="7.5" fill="#ff0000"/>
<ellipse cx="839.73" cy="1229.82" rx="8.1" ry="7.5" fill="#ff0000"/>
<ellipse cx="866.87" cy="1233.06" rx="8.1" ry="7.5" fill="#ff0000"/>
<ellipse cx="894.01" cy="1235.76" rx="8.1" ry="7.5" fill="#ff0000"/>
<ellipse cx="921.16" cy="1236.84" rx="8.1" ry="7.5" fill="#ff0000"/>
<ellipse cx="948.30" cy="1237.65" rx="8.1" ry="7.5" fill="#ff0000"/>
</g>
<rect x="853.30" y="719.00" width="145.70" height="67.00" fill="none" stroke="#000" stroke-width="1.5"/>
<path d="M862.80,738.60 H929.60" stroke="#000" stroke-width="1.45"/>
<rect x="888.60" y="731.70" width="15.4" height="13.799999999999999"/>
<path d="M862.80,771.10 H929.60" stroke="#ff0000" stroke-width="1.55"/>
<ellipse cx="896.30" cy="771.10" rx="8.5" ry="7.95" fill="#ff0000"/>
<text class="lg" x="936.40" y="747.60">heat</text>
<text class="lg" x="937.30" y="780.00">cool</text>
<text class="tt" x="485.00" y="1334.50" letter-spacing="0.62">temperature (<tspan class="sup" dx="0.6" dy="-15.3">O</tspan><tspan dx="-0.3" dy="15.3">C</tspan><tspan dx="1.5">)</tspan></text>
<text class="tt" style="font-size:27px" text-anchor="middle" textLength="207.5" lengthAdjust="spacingAndGlyphs" transform="translate(106.70,999.40) rotate(-90)">transmittance (%)</text>
<text class="pl" x="44.50" y="722.30">(b)</text>
<path d="M164.50,1372.30 H176.70 V1916.50 H998.30 V1927.40" fill="none" stroke="#000" stroke-width="2.5" stroke-linejoin="miter" stroke-linecap="round"/>
<path d="M164.50,1916.50 H176.70 M164.50,1807.66 H176.70 M164.50,1698.82 H176.70 M164.50,1589.98 H176.70 M164.50,1481.14 H176.70 M170.40,1862.08 H176.70 M170.40,1753.24 H176.70 M170.40,1644.40 H176.70 M170.40,1535.56 H176.70 M170.40,1426.72 H176.70 M176.70,1916.50 V1927.40 M279.40,1916.50 V1927.40 M382.10,1916.50 V1927.40 M484.80,1916.50 V1927.40 M587.50,1916.50 V1927.40 M690.20,1916.50 V1927.40 M792.90,1916.50 V1927.40 M895.60,1916.50 V1927.40 M228.05,1916.50 V1921.50 M330.75,1916.50 V1921.50 M433.45,1916.50 V1921.50 M536.15,1916.50 V1921.50 M638.85,1916.50 V1921.50 M741.55,1916.50 V1921.50 M844.25,1916.50 V1921.50 M946.95,1916.50 V1921.50 " fill="none" stroke="#000" stroke-width="2.5" stroke-linecap="round"/>
<text class="tk" x="155.20" y="1922.60" text-anchor="end">0</text>
<text class="tk" x="155.20" y="1813.76" text-anchor="end">20</text>
<text class="tk" x="155.20" y="1704.92" text-anchor="end">40</text>
<text class="tk" x="155.20" y="1596.08" text-anchor="end">60</text>
<text class="tk" x="155.20" y="1487.24" text-anchor="end">80</text>
<text class="tk" x="155.20" y="1378.40" text-anchor="end">100</text>
<text class="tk" x="176.40" y="1951.90" text-anchor="middle">4</text>
<text class="tk" x="279.10" y="1951.90" text-anchor="middle">6</text>
<text class="tk" x="381.80" y="1951.90" text-anchor="middle">8</text>
<text class="tk" x="484.50" y="1951.90" text-anchor="middle">10</text>
<text class="tk" x="587.20" y="1951.90" text-anchor="middle">12</text>
<text class="tk" x="689.90" y="1951.90" text-anchor="middle">14</text>
<text class="tk" x="792.60" y="1951.90" text-anchor="middle">16</text>
<text class="tk" x="895.30" y="1951.90" text-anchor="middle">18</text>
<text class="tk" x="998.00" y="1951.90" text-anchor="middle">20</text>
<clipPath id="c3"><rect x="176.70" y="1372.30" width="821.60" height="544.20"/></clipPath>
<g clip-path="url(#c3)">
<path d="M228.05,1382.37 C236.61,1381.37 245.18,1379.24 253.72,1379.37 C262.29,1379.51 270.83,1382.09 279.40,1383.18 C287.95,1384.27 296.51,1385.09 305.07,1385.90 C313.63,1386.72 322.19,1387.54 330.75,1388.08 C339.30,1388.63 351.11,1386.96 356.42,1389.17 C359.39,1390.40 360.03,1392.60 362.30,1394.60 C365.27,1397.21 369.74,1400.19 372.80,1403.40 C375.73,1406.48 378.13,1409.69 380.40,1413.40 C382.88,1417.45 384.86,1422.33 386.90,1426.90 C388.96,1431.50 390.81,1436.03 392.70,1440.90 C394.72,1446.13 396.88,1452.59 398.60,1457.30 C399.91,1460.87 400.96,1463.46 402.10,1466.70 C403.30,1470.12 404.41,1473.89 405.60,1477.30 C406.72,1480.51 407.92,1483.86 409.00,1486.60 C409.87,1488.80 410.73,1490.39 411.50,1492.50 C412.35,1494.83 412.57,1496.41 413.80,1500.00 C417.07,1509.56 426.33,1533.83 433.45,1551.89 C441.31,1571.82 450.32,1594.39 459.12,1614.47 C467.46,1633.49 476.07,1651.62 484.80,1669.43 C493.20,1686.59 501.49,1704.05 510.47,1719.50 C518.68,1733.59 527.29,1746.47 536.15,1758.68 C544.45,1770.13 552.95,1781.00 561.82,1790.79 C570.11,1799.93 578.68,1808.31 587.50,1815.82 C595.83,1822.91 604.38,1829.43 613.17,1834.87 C621.52,1840.04 630.19,1844.09 638.85,1847.93 C647.31,1851.68 655.94,1854.63 664.52,1857.73 C673.05,1860.80 681.58,1863.97 690.20,1866.43 C698.70,1868.86 707.29,1870.69 715.88,1872.42 C724.41,1874.14 732.99,1875.32 741.55,1876.77 C750.11,1878.22 758.66,1879.77 767.22,1881.13 C775.78,1882.49 784.34,1883.76 792.90,1884.94 C801.45,1886.11 810.01,1887.29 818.57,1888.20 C827.12,1889.11 835.69,1889.65 844.25,1890.38 C852.81,1891.10 861.37,1891.83 869.92,1892.56 C878.48,1893.28 887.04,1894.19 895.60,1894.73 C904.15,1895.28 912.72,1895.55 921.27,1895.82 C929.83,1896.09 938.39,1896.18 946.95,1896.36" fill="none" stroke="#000" stroke-width="1.45" stroke-linejoin="round"/>
<rect x="221.05" y="1376.07" width="14.0" height="12.6"/>
<rect x="246.72" y="1373.07" width="14.0" height="12.6"/>
<rect x="272.40" y="1376.88" width="14.0" height="12.6"/>
<rect x="298.07" y="1379.61" width="14.0" height="12.6"/>
<rect x="323.75" y="1381.78" width="14.0" height="12.6"/>
<rect x="349.42" y="1382.87" width="14.0" height="12.6"/>
<rect x="375.10" y="1400.83" width="14.0" height="12.6"/>
<rect x="400.77" y="1480.28" width="14.0" height="12.6"/>
<rect x="426.45" y="1545.59" width="14.0" height="12.6"/>
<rect x="452.12" y="1608.17" width="14.0" height="12.6"/>
<rect x="477.80" y="1663.13" width="14.0" height="12.6"/>
<rect x="503.47" y="1713.20" width="14.0" height="12.6"/>
<rect x="529.15" y="1752.38" width="14.0" height="12.6"/>
<rect x="554.82" y="1784.49" width="14.0" height="12.6"/>
<rect x="580.50" y="1809.52" width="14.0" height="12.6"/>
<rect x="606.17" y="1828.57" width="14.0" height="12.6"/>
<rect x="631.85" y="1841.63" width="14.0" height="12.6"/>
<rect x="657.52" y="1851.43" width="14.0" height="12.6"/>
<rect x="683.20" y="1860.13" width="14.0" height="12.6"/>
<rect x="708.88" y="1866.12" width="14.0" height="12.6"/>
<rect x="734.55" y="1870.47" width="14.0" height="12.6"/>
<rect x="760.22" y="1874.83" width="14.0" height="12.6"/>
<rect x="785.90" y="1878.64" width="14.0" height="12.6"/>
<rect x="811.57" y="1881.90" width="14.0" height="12.6"/>
<rect x="837.25" y="1884.08" width="14.0" height="12.6"/>
<rect x="862.92" y="1886.26" width="14.0" height="12.6"/>
<rect x="888.60" y="1888.43" width="14.0" height="12.6"/>
<rect x="914.27" y="1889.52" width="14.0" height="12.6"/>
<rect x="939.95" y="1890.06" width="14.0" height="12.6"/>
<path d="M228.05,1380.63 C236.61,1381.24 245.25,1383.37 253.72,1382.48 C262.37,1381.56 270.79,1375.47 279.40,1375.02 C287.91,1374.58 296.53,1377.93 305.07,1379.65 C313.65,1381.37 322.74,1381.09 330.75,1385.36 C340.05,1390.33 348.27,1400.52 356.42,1409.85 C365.48,1420.20 372.99,1435.04 382.10,1445.22 C390.22,1454.30 400.15,1458.10 407.77,1468.62 C418.02,1482.76 425.06,1506.17 433.45,1525.76 C442.20,1546.21 450.29,1568.71 459.12,1588.89 C467.44,1607.89 476.17,1625.57 484.80,1643.58 C493.29,1661.30 501.44,1679.99 510.47,1696.10 C518.64,1710.66 527.48,1723.25 536.15,1736.37 C544.61,1749.17 553.06,1761.98 561.82,1773.92 C570.20,1785.33 578.25,1797.82 587.50,1806.57 C595.54,1814.17 604.47,1819.11 613.17,1824.53 C621.60,1829.77 630.25,1834.13 638.85,1838.68 C647.37,1843.19 655.90,1847.72 664.52,1851.74 C673.02,1855.69 681.55,1859.52 690.20,1862.62 C698.67,1865.67 707.27,1868.06 715.88,1870.24 C724.39,1872.41 732.98,1874.02 741.55,1875.68 C750.09,1877.34 758.66,1878.83 767.22,1880.20 C775.77,1881.57 784.34,1882.67 792.90,1883.90 C801.46,1885.14 810.00,1886.60 818.57,1887.60 C827.12,1888.60 835.69,1889.09 844.25,1889.89 C852.81,1890.69 861.36,1891.60 869.92,1892.39 C878.48,1893.18 887.04,1894.09 895.60,1894.62 C904.15,1895.16 912.72,1895.36 921.27,1895.60 C929.83,1895.85 938.39,1895.93 946.95,1896.09" fill="none" stroke="#ff0000" stroke-width="1.55" stroke-linejoin="round"/>
<ellipse cx="228.05" cy="1380.63" rx="8.1" ry="7.5" fill="#ff0000"/>
<ellipse cx="253.72" cy="1382.48" rx="8.1" ry="7.5" fill="#ff0000"/>
<ellipse cx="279.40" cy="1375.02" rx="8.1" ry="7.5" fill="#ff0000"/>
<ellipse cx="305.07" cy="1379.65" rx="8.1" ry="7.5" fill="#ff0000"/>
<ellipse cx="330.75" cy="1385.36" rx="8.1" ry="7.5" fill="#ff0000"/>
<ellipse cx="356.42" cy="1409.85" rx="8.1" ry="7.5" fill="#ff0000"/>
<ellipse cx="382.10" cy="1445.22" rx="8.1" ry="7.5" fill="#ff0000"/>
<ellipse cx="407.77" cy="1468.62" rx="8.1" ry="7.5" fill="#ff0000"/>
<ellipse cx="433.45" cy="1525.76" rx="8.1" ry="7.5" fill="#ff0000"/>
<ellipse cx="459.12" cy="1588.89" rx="8.1" ry="7.5" fill="#ff0000"/>
<ellipse cx="484.80" cy="1643.58" rx="8.1" ry="7.5" fill="#ff0000"/>
<ellipse cx="510.47" cy="1696.10" rx="8.1" ry="7.5" fill="#ff0000"/>
<ellipse cx="536.15" cy="1736.37" rx="8.1" ry="7.5" fill="#ff0000"/>
<ellipse cx="561.82" cy="1773.92" rx="8.1" ry="7.5" fill="#ff0000"/>
<ellipse cx="587.50" cy="1806.57" rx="8.1" ry="7.5" fill="#ff0000"/>
<ellipse cx="613.17" cy="1824.53" rx="8.1" ry="7.5" fill="#ff0000"/>
<ellipse cx="638.85" cy="1838.68" rx="8.1" ry="7.5" fill="#ff0000"/>
<ellipse cx="664.52" cy="1851.74" rx="8.1" ry="7.5" fill="#ff0000"/>
<ellipse cx="690.20" cy="1862.62" rx="8.1" ry="7.5" fill="#ff0000"/>
<ellipse cx="715.88" cy="1870.24" rx="8.1" ry="7.5" fill="#ff0000"/>
<ellipse cx="741.55" cy="1875.68" rx="8.1" ry="7.5" fill="#ff0000"/>
<ellipse cx="767.22" cy="1880.20" rx="8.1" ry="7.5" fill="#ff0000"/>
<ellipse cx="792.90" cy="1883.90" rx="8.1" ry="7.5" fill="#ff0000"/>
<ellipse cx="818.57" cy="1887.60" rx="8.1" ry="7.5" fill="#ff0000"/>
<ellipse cx="844.25" cy="1889.89" rx="8.1" ry="7.5" fill="#ff0000"/>
<ellipse cx="869.92" cy="1892.39" rx="8.1" ry="7.5" fill="#ff0000"/>
<ellipse cx="895.60" cy="1894.62" rx="8.1" ry="7.5" fill="#ff0000"/>
<ellipse cx="921.27" cy="1895.60" rx="8.1" ry="7.5" fill="#ff0000"/>
<ellipse cx="946.95" cy="1896.09" rx="8.1" ry="7.5" fill="#ff0000"/>
</g>
<rect x="810.10" y="1379.00" width="146.90" height="67.50" fill="none" stroke="#000" stroke-width="1.5"/>
<path d="M819.60,1398.60 H886.40" stroke="#000" stroke-width="1.45"/>
<rect x="845.40" y="1391.70" width="15.4" height="13.799999999999999"/>
<path d="M819.60,1431.10 H886.40" stroke="#ff0000" stroke-width="1.55"/>
<ellipse cx="853.10" cy="1431.10" rx="8.5" ry="7.95" fill="#ff0000"/>
<text class="lg" x="894.30" y="1407.60">heat</text>
<text class="lg" x="895.20" y="1440.00">cool</text>
<text class="tt" x="475.50" y="2000.00" letter-spacing="0.85">temperature (<tspan class="sup" dx="0.6" dy="-15.3">O</tspan><tspan dx="-0.3" dy="15.3">C</tspan><tspan dx="1.5">)</tspan></text>
<text class="tt" style="font-size:27px" text-anchor="middle" textLength="209.5" lengthAdjust="spacingAndGlyphs" transform="translate(95.80,1662.10) rotate(-90)">transmittance (%)</text>
<text class="pl" x="34.50" y="1381.50">(c)</text>
</svg>
</body></html>
